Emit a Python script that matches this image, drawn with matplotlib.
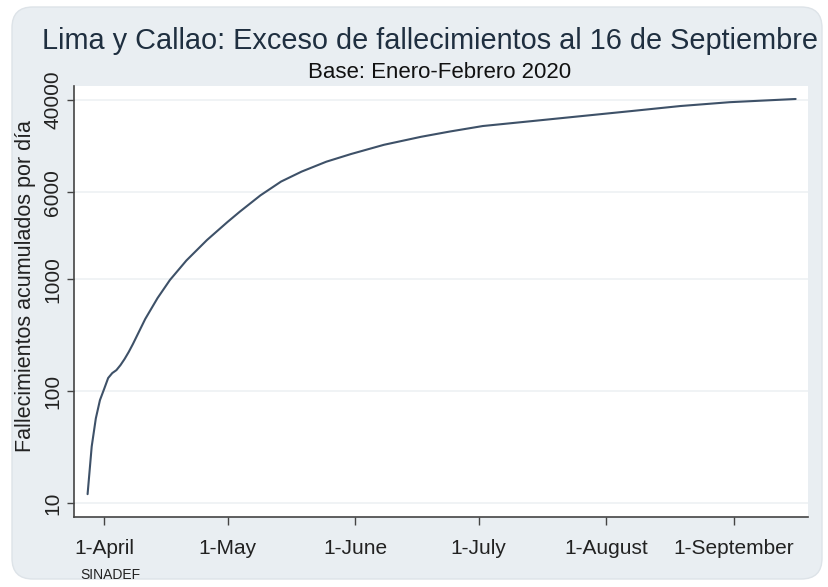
import matplotlib
matplotlib.use("Agg")
import matplotlib.pyplot as plt
import matplotlib.dates as mdates
from matplotlib.patches import FancyBboxPatch
import datetime as dt

plt.rcParams['font.family'] = ['Liberation Sans', 'DejaVu Sans']

# Data (cumulative excess deaths, Lima y Callao)
dates = ["2020-03-28", "2020-03-29", "2020-03-30", "2020-03-31", "2020-04-01",
         "2020-04-02", "2020-04-03", "2020-04-04", "2020-04-05", "2020-04-06",
         "2020-04-07", "2020-04-08", "2020-04-11", "2020-04-14", "2020-04-17",
         "2020-04-21", "2020-04-26", "2020-05-01", "2020-05-04", "2020-05-09",
         "2020-05-14", "2020-05-19", "2020-05-25", "2020-05-31", "2020-06-08",
         "2020-06-17", "2020-06-24", "2020-07-02", "2020-07-14", "2020-07-26",
         "2020-08-07", "2020-08-19", "2020-08-31", "2020-09-16"]
deaths = [12, 32, 57, 83, 104,
          131, 145, 154, 171, 194,
          224, 263, 441, 679, 984,
          1470, 2240, 3250, 4020, 5620,
          7460, 9160, 11230, 13150, 15900,
          18740, 20890, 23390, 25900, 28700,
          31800, 35300, 38200, 40800]

y_ticks = [10, 100, 1000, 6000, 40000]
y_ticklabels = ["10", "100", "1000", "6000", "40000"]
x_ticks = ["2020-04-01", "2020-05-01", "2020-06-01", "2020-07-01", "2020-08-01", "2020-09-01"]
x_ticklabels = ["1-April", "1-May", "1-June", "1-July", "1-August", "1-September"]

title = "Lima y Callao: Exceso de fallecimientos al 16 de Septiembre"
subtitle = "Base: Enero-Febrero 2020"
ylabel = "Fallecimientos acumulados por día"
note = "SINADEF"

W, H = 829, 587
fig = plt.figure(figsize=(W / 100, H / 100), dpi=100)
fig.patch.set_facecolor("white")

bg = FancyBboxPatch((12 / W, 8 / H), (822 - 12) / W, (580 - 8) / H,
                    boxstyle="round,pad=0,rounding_size=0.025",
                    transform=fig.transFigure, facecolor="#e9eef2",
                    edgecolor="#dde3e8", linewidth=1.0,
                    mutation_aspect=W / H)
bg.set_zorder(-10)
fig.add_artist(bg)

ax = fig.add_axes([74 / W, (H - 517) / H, (808 - 74) / W, (517 - 86) / H])
ax.set_zorder(5)
ax.set_facecolor("white")

xd = [mdates.date2num(dt.datetime.strptime(d, "%Y-%m-%d")) for d in dates]
ax.plot(xd, deaths, color="#3e5168", linewidth=1.5, solid_capstyle="round",
        solid_joinstyle="round")

ax.set_yscale("log")
ax.set_ylim(7.5, 53300)
apr1 = mdates.date2num(dt.datetime(2020, 4, 1))
ax.set_xlim(apr1 - 7.3, apr1 + 171)

ax.set_yticks(y_ticks)
ax.set_yticklabels(y_ticklabels, rotation=90, va="center", fontsize=15, color="#222222")
ax.yaxis.set_minor_locator(matplotlib.ticker.NullLocator())
xt = [mdates.date2num(dt.datetime.strptime(d, "%Y-%m-%d")) for d in x_ticks]
ax.set_xticks(xt)
ax.set_xticklabels(x_ticklabels, fontsize=15, color="#222222")

ax.grid(axis="y", color="#eef1f4", linewidth=1.2)
ax.set_axisbelow(True)
for s in ["top", "right"]:
    ax.spines[s].set_visible(False)
for s in ["left", "bottom"]:
    ax.spines[s].set_color("#444444")
    ax.spines[s].set_linewidth(1.2)
ax.tick_params(axis="y", direction="out", length=5, width=1, color="#444444", pad=3.5)
ax.tick_params(axis="x", direction="out", length=6, width=1, color="#444444", pad=10)

fig.text(26 / W, 1 - 286 / H, ylabel, fontsize=15.5, color="#222222",
         rotation=90, ha="center", va="center")

fig.text(42 / W, 1 - 41 / H, title, fontsize=20.8, color="#1f2f40", ha="left", va="center")
fig.text(440 / W, 1 - 72 / H, subtitle, fontsize=16, color="#111111", ha="center", va="center")
fig.text(80 / W, 1 - 575 / H, note, fontsize=10, color="#222222", ha="left", va="center")

fig.savefig("out.png", dpi=100)
